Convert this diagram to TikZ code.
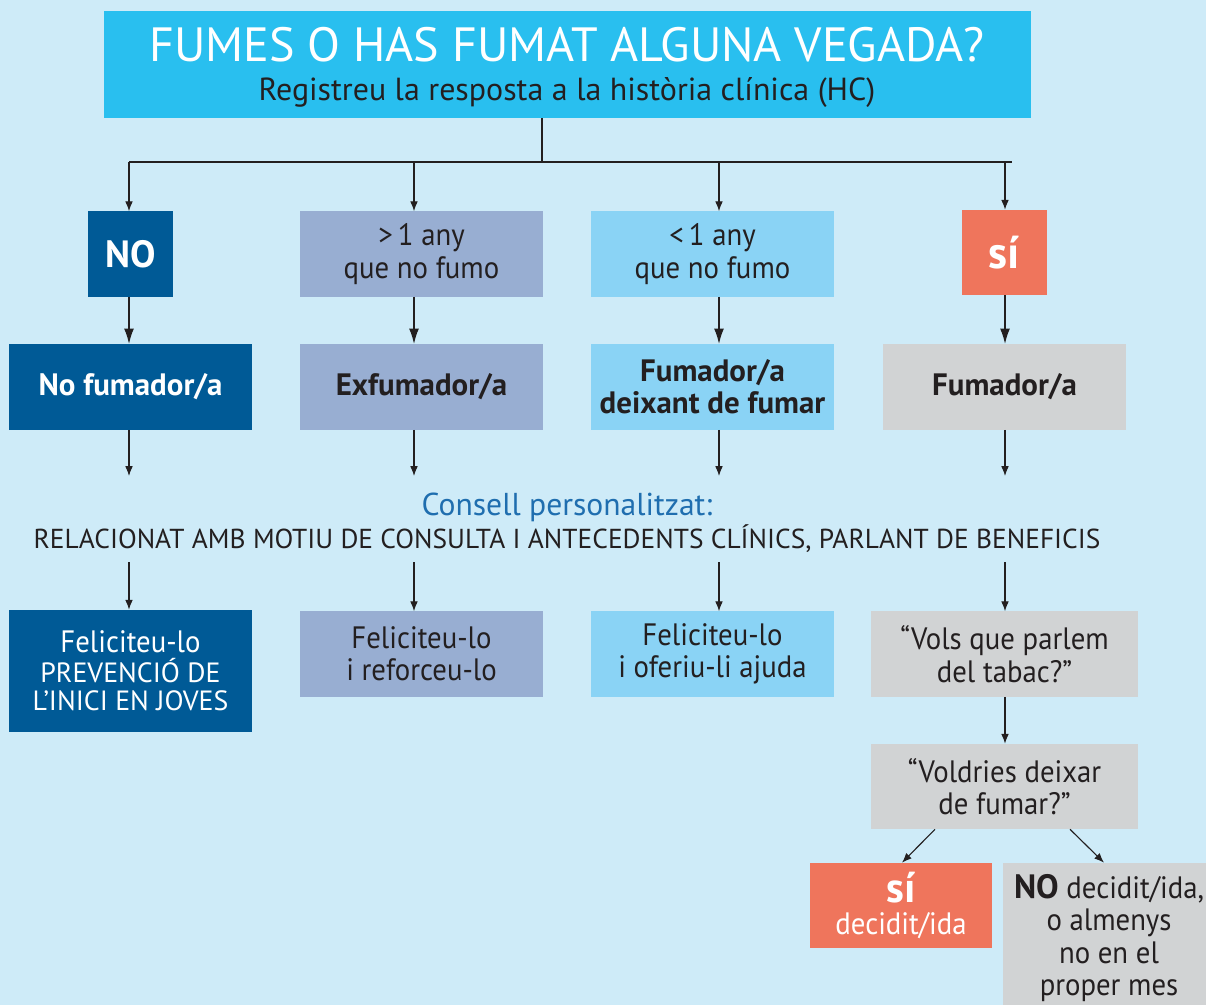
\documentclass[tikz,border=0pt]{standalone}
\usepackage{fontspec}
\setmainfont[FakeStretch=0.93]{PT Sans}
\newfontfamily\wf{PT Sans}
\usetikzlibrary{arrows.meta}
\definecolor{bgc}{HTML}{CEEBF8}
\definecolor{titlec}{HTML}{29BFEF}
\definecolor{darkb}{HTML}{005A96}
\definecolor{lavc}{HTML}{98AED2}
\definecolor{skyc}{HTML}{8AD3F5}
\definecolor{salc}{HTML}{EF755C}
\definecolor{greyc}{HTML}{D1D3D4}
\definecolor{txtc}{HTML}{231F20}
\definecolor{consc}{HTML}{1F6EAF}
\tikzset{
  boxbase/.style={inner sep=0pt, align=center, minimum height=2.125cm,
    font=\fontsize{22}{23}\selectfont, text=txtc},
  wide/.style={boxbase, minimum width=6.075cm},
  narrow/.style={boxbase, minimum width=2.125cm},
  boldtxt/.style={font=\wf\fontsize{22}{23}\selectfont\bfseries},
  arr/.style={draw=txtc, line width=0.8pt, -{Latex[length=7pt,width=5.5pt]}},
  arrbig/.style={draw=txtc, line width=1.3pt, -{Latex[length=11pt,width=7pt]}},
  plain/.style={draw=txtc, line width=0.8pt}
}
\begin{document}
\begin{tikzpicture}[x=0.025cm,y=-0.025cm]
\fill[bgc] (0,0) rectangle (1206,1005);
\useasboundingbox (0,0) rectangle (1206,1005);
% columns
\coordinate (c1) at (129,0);
\coordinate (c2) at (414,0);
\coordinate (c3) at (719,0);
\coordinate (c4) at (1005,0);
\coordinate (d1) at (935,0);
\coordinate (d2) at (902,0);
\coordinate (d3) at (1070,0);
\coordinate (d4) at (1104,0);
% title
\node[fill=titlec, minimum width=23.175cm, minimum height=2.675cm, inner sep=0pt] (title) at (567.5,64.5) {};
\node[anchor=base, text=white, font=\wf\fontsize{34.2}{35}\selectfont, inner sep=0pt] (t1) at (567,62) {FUMES O HAS FUMAT ALGUNA VEGADA?};
\node[anchor=base, text=txtc, font=\wf\fontsize{22.7}{24}\selectfont, inner sep=0pt] (t2) at (567,101) {Registreu la resposta a la història clínica (HC)};
\coordinate (hl) at (542,162);
\coordinate (hlL) at (129,162);
\coordinate (hlR) at (1012,162);
\draw[plain] (title.south -| hl) -- (hl);
\draw[plain] (hlL) -- (hlR);
% row 1
\node[narrow, fill=darkb, text=white, font=\wf\fontsize{27}{27}\selectfont\bfseries] (no1) at (130.5,254) {NO};
\node[wide, fill=lavc] (gt1) at (421.5,254) {>\,1 any\\que no fumo};
\node[wide, fill=skyc] (lt1) at (712.5,254) {<\,1 any\\que no fumo};
\node[narrow, fill=salc, text=white, font=\wf\fontsize{32}{32}\selectfont\bfseries] (si1) at (1004.5,252.5) {sí};
\draw[arr] (hl -| c1) -- (no1.north -| c1);
\draw[arr] (hl -| c2) -- (gt1.north -| c2);
\draw[arr] (hl -| c3) -- (lt1.north -| c3);
\draw[arr] (hl -| c4) -- (si1.north -| c4);
% row 2
\node[wide, fill=darkb, text=white, boldtxt] (nof) at (130.5,387) {No fumador/a};
\node[wide, fill=lavc, boldtxt] (exf) at (421.5,387) {Exfumador/a};
\node[wide, fill=skyc, boldtxt] (fdf) at (712.5,387) {Fumador/a\\deixant de fumar};
\node[wide, fill=greyc, boldtxt] (fum) at (1004.5,387) {Fumador/a};
\draw[arrbig] (no1.south -| c1) -- (nof.north -| c1);
\draw[arrbig] (gt1.south -| c2) -- (exf.north -| c2);
\draw[arrbig] (lt1.south -| c3) -- (fdf.north -| c3);
\draw[arrbig] (si1.south -| c4) -- (fum.north -| c4);
% advice text
\node[anchor=base, text=consc, font=\wf\fontsize{22.5}{24}\selectfont, inner sep=0pt] (cons) at (567,515) {Consell personalitzat:};
\node[anchor=base, text=txtc, font=\wf\fontsize{19.5}{21}\selectfont, inner sep=0pt] (rel) at (567,548) {RELACIONAT AMB MOTIU DE CONSULTA I ANTECEDENTS CLÍNICS, PARLANT DE BENEFICIS};
\coordinate (ay) at (0,476);
\coordinate (by) at (0,562);
\draw[arr] (nof.south -| c1) -- (ay -| c1);
\draw[arr] (exf.south -| c2) -- (ay -| c2);
\draw[arr] (fdf.south -| c3) -- (ay -| c3);
\draw[arr] (fum.south -| c4) -- (ay -| c4);
% row 3
\node[wide, fill=darkb, text=white, minimum height=3.05cm] (fel1) at (130.5,671) {Feliciteu-lo\\[-2pt]{\wf\fontsize{19.8}{21}\selectfont PREVENCIÓ DE}\\[-3pt]{\wf\fontsize{19.8}{21}\selectfont L’INICI EN JOVES}};
\node[wide, fill=lavc] (fel2) at (421.5,654) {Feliciteu-lo\\i reforceu-lo};
\node[wide, fill=skyc] (fel3) at (712.5,654) {Feliciteu-lo\\i oferiu-li ajuda};
\node[boxbase, fill=greyc, minimum width=6.675cm] (vols) at (1004.5,654) {“Vols que parlem\\del tabac?”};
\draw[arr] (by -| c1) -- (fel1.north -| c1);
\draw[arr] (by -| c2) -- (fel2.north -| c2);
\draw[arr] (by -| c3) -- (fel3.north -| c3);
\draw[arr] (by -| c4) -- (vols.north -| c4);
% smoker branch
\node[boxbase, fill=greyc, minimum width=6.675cm] (vold) at (1004.5,786.5) {“Voldries deixar\\de fumar?”};
\draw[arr] (vols.south -| c4) -- (vold.north -| c4);
\node[boxbase, fill=salc, text=white, minimum width=4.55cm] (sid) at (901,905.5) {{\wf\fontsize{30}{28}\selectfont\bfseries sí}\\decidit/ida};
\node[boxbase, fill=greyc, minimum width=5.3cm, minimum height=3.75cm] (nod) at (1109,938) {{\wf\fontsize{24}{23}\selectfont\bfseries NO} decidit/ida,\\o almenys\\no en el\\proper mes};
\draw[arr] (vold.south -| d1) -- (sid.north -| d2);
\draw[arr] (vold.south -| d3) -- (nod.north -| d4);
\end{tikzpicture}
\end{document}
